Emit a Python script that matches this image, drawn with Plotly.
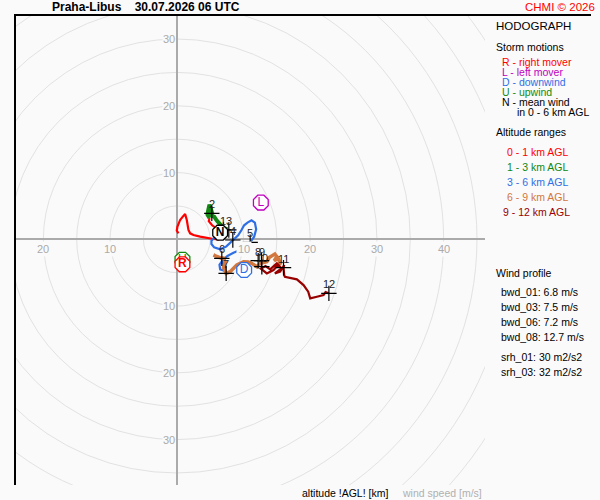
import plotly.graph_objects as go

# hodograph segments (u, v in m/s)
red_u = [0.25, 0.0, 0.1, 0.5, 0.9, 1.25, 1.5, 1.75, 2.0, 2.5, 3.5, 4.5, 5.5, 6.25, 6.8, 6.6, 5.9, 5.3, 4.8, 4.9]
red_v = [0.9, 1.3, 1.9, 2.9, 3.4, 3.8, 2.9, 1.4, 0.9, 0.65, 0.4, 0.2, 0.05, 0.0, 0.4, 1.2, 1.7, 2.1, 2.7, 3.2]
green_u = [4.9, 4.6, 4.7, 4.9, 5.1, 5.3, 5.0, 5.6, 6.0, 6.5, 7.0, 7.6]
green_v = [3.2, 3.7, 4.3, 5.2, 4.6, 3.9, 3.6, 3.4, 2.8, 2.2, 1.7, 1.5]
blue_u = [7.6, 7.2, 6.4, 5.6, 5.2, 5.2, 5.6, 6.5, 7.4, 8.3, 9.2, 9.7, 10.1, 10.6, 11.2, 11.7, 11.9,
          11.6, 11.0, 10.4, 9.5, 8.5, 7.6, 6.9, 6.4, 6.5, 7.1, 7.3, 6.8, 6.75]
blue_v = [1.5, 0.8, 0.4, 0.2, -0.2, -0.7, -1.2, -1.5, -1.1, -0.2, 0.6, 1.4, 2.1, 2.5, 2.85, 2.5, 1.5,
          0.4, -0.45, -1.0, -1.6, -2.0, -2.5, -3.1, -3.8, -4.5, -4.7, -4.2, -3.4, -2.85]
orange_u = [6.75, 6.0, 5.5, 6.2, 7.0, 7.25, 7.0, 7.2, 7.4, 8.0, 9.0, 10.0, 10.7, 11.2, 12.0, 12.5,
            13.5, 13.9, 14.2, 14.7, 15.0, 14.6, 15.2, 15.5, 15.2]
orange_v = [-2.85, -2.6, -2.35, -2.7, -2.8, -3.35, -4.2, -4.8, -5.1, -4.85, -3.85, -3.35, -3.4, -3.6,
            -4.1, -3.6, -3.35, -2.7, -2.5, -2.2, -2.6, -3.2, -2.85, -3.6, -3.8]
dred_u = [15.2, 14.5, 13.5, 12.6, 13.3, 14.0, 15.0, 15.7, 14.7, 15.5, 16.1, 16.0, 16.1, 16.2,
          18.0, 19.0, 19.7, 20.0, 21.0, 22.0, 22.3, 22.8]
dred_v = [-3.8, -4.6, -5.1, -4.4, -4.0, -4.5, -3.6, -4.35, -5.1, -4.85, -3.85, -4.25, -5.35, -5.6,
          -6.0, -6.85, -7.85, -8.85, -8.6, -8.35, -7.9, -8.1]

# altitude marks (km AGL)
alt_labels = ["1", "2", "3", "4", "5", "6", "7", "8", "9", "10", "11", "12"]
alt_u = [7.0, 5.25, 7.8, 8.4, 11.0, 6.75, 7.4, 12.2, 12.7, 12.75, 16.0, 22.8]
alt_v = [1.4, 3.9, 1.4, -0.1, -0.45, -2.85, -5.1, -3.2, -3.2, -4.1, -4.25, -8.1]

# storm motions
storm_names = ["U", "R", "L", "D", "N"]
storm_u = [0.85, 0.85, 12.6, 10.1, 6.5]
storm_v = [-3.05, -3.75, 5.5, -4.6, 1.0]
storm_colors = ["#108a10", "#ff0000", "#c000c0", "#2f6fe6", "#000000"]

seg_colors = ["#ff0000", "#118811", "#2f6fe6", "#d2773f", "#990000"]
seg_widths = [2.2, 4, 2.2, 3.5, 2.2]

ring_radii = [5, 10, 15, 20, 25, 30, 35, 40, 45, 50, 55, 60, 65]
x_ticks = [-20, -10, 10, 20, 30, 40]
y_ticks = [-30, -20, -10, 10, 20, 30]

legend_storm = ["R - right mover", "L - left mover", "D - downwind", "U - upwind", "N - mean wind"]
legend_storm_colors = ["#ff0000", "#c000c0", "#2f6fe6", "#108a10", "#000000"]
legend_alt = ["0 - 1 km AGL", "1 - 3 km AGL", "3 - 6 km AGL", "6 - 9 km AGL", "9 - 12 km AGL"]
profile = ["bwd_01: 6.8 m/s", "bwd_03: 7.5 m/s", "bwd_06: 7.2 m/s", "bwd_08: 12.7 m/s",
           "srh_01: 30 m2/s2", "srh_03: 32 m2/s2"]

W, H = 600, 500
FONT = "Liberation Sans, Arial, sans-serif"


def px(x):
    return x / W


def py(y):
    return 1 - y / H


fig = go.Figure()

segs = [(red_u, red_v), (green_u, green_v), (blue_u, blue_v), (orange_u, orange_v), (dred_u, dred_v)]
for (u, v), c, w in zip(segs, seg_colors, seg_widths):
    fig.add_trace(go.Scatter(x=u, y=v, mode="lines", line=dict(color=c, width=w),
                             hoverinfo="skip", showlegend=False))

fig.add_trace(go.Scatter(x=alt_u, y=alt_v, mode="markers",
                         marker=dict(symbol="cross-thin", size=11, line=dict(color="#000000", width=1.2)),
                         hoverinfo="skip", showlegend=False))

for n, u, v, c in zip(storm_names, storm_u, storm_v, storm_colors):
    label = "<b>%s</b>" % n if n in ("N", "R") else n
    fig.add_trace(go.Scatter(x=[u], y=[v], mode="markers+text", text=[label],
                             textposition="middle center",
                             textfont=dict(color=c, size=12, family=FONT),
                             marker=dict(symbol="octagon", size=16, color="#ffffff",
                                         line=dict(color=c, width=1.3)),
                             hoverinfo="skip", showlegend=False))

shapes = []
for r in ring_radii:
    shapes.append(dict(type="circle", xref="x", yref="y", x0=-r, x1=r, y0=-r, y1=r,
                       line=dict(color="#e2e2e2", width=1), layer="below"))
# black frame: left edge and top edge running on under the side panel
frame_x = [px(15), px(15), px(591)]
frame_y = [py(485), py(15), py(15)]
shapes.append(dict(type="path", xref="paper", yref="paper",
                   path="M %f,%f L %f,%f L %f,%f" % (frame_x[0], frame_y[0], frame_x[1], frame_y[1],
                                                     frame_x[2], frame_y[2]),
                   line=dict(color="black", width=2), layer="above"))

ann = []
for t in x_ticks:
    ann.append(dict(x=t, y=0, xref="x", yref="y", text=str(abs(t)), showarrow=False,
                    yanchor="top", yshift=-2, bgcolor="#fafafa",
                    font=dict(color="#aaaaaa", size=11, family=FONT)))
for t in y_ticks:
    ann.append(dict(x=0, y=t, xref="x", yref="y", text=str(abs(t)), showarrow=False,
                    xanchor="right", xshift=-1, bgcolor="#fafafa", borderpad=0,
                    font=dict(color="#aaaaaa", size=11, family=FONT)))
for lab, u, v in zip(alt_labels, alt_u, alt_v):
    ann.append(dict(x=u, y=v, xref="x", yref="y", text=lab, showarrow=False, yshift=9,
                    font=dict(color="#222222", size=11, family=FONT)))


def txt(x, y, s, color="#000000", size=10.5, anchor="left", bold=False):
    ann.append(dict(x=px(x), y=py(y), xref="paper", yref="paper", text="<b>%s</b>" % s if bold else s,
                    showarrow=False, xanchor=anchor, yanchor="middle",
                    font=dict(color=color, size=size, family=FONT)))


txt(50, 7, "Praha-Libus&nbsp;&nbsp;&nbsp;&nbsp;30.07.2026 06 UTC", size=12, bold=True)
txt(597, 7, "CHMI © 2026", color="#ff0000", size=11.5, anchor="right")
txt(494, 26, "HODOGRAPH", size=11.5)
txt(494, 47, "Storm motions", size=10.5)
for i, (s, c) in enumerate(zip(legend_storm, legend_storm_colors)):
    txt(500, 62 + 10 * i, s, color=c, size=10.5)
txt(515, 112, "in 0 - 6 km AGL", size=10.5)
txt(494, 132, "Altitude ranges", size=10.5)
alt_x = [505, 505, 505, 505, 501]
for i, (s, c, x) in enumerate(zip(legend_alt, seg_colors, alt_x)):
    txt(x, 152 + 15 * i, s, color=c, size=10.5)
txt(494, 273, "Wind profile", size=10.5)
prof_y = [292, 307, 322, 337, 357, 372]
for s, y in zip(profile, prof_y):
    txt(499, y, s, size=10.5)
txt(300, 493, "altitude !AGL! [km]", size=10.5)
txt(400, 493, "wind speed [m/s]", color="#b0b0b0", size=10.5)

fig.update_layout(
    width=W, height=H,
    margin=dict(l=0, r=0, t=0, b=0),
    paper_bgcolor="#fafafa", plot_bgcolor="#fafafa",
    showlegend=False, shapes=shapes, annotations=ann,
    xaxis=dict(range=[-24.25, 46.2], domain=[px(15), px(485)], showgrid=False, zeroline=True,
               zerolinecolor="#aaaaaa", zerolinewidth=1.5, showticklabels=False, ticks=""),
    yaxis=dict(range=[-36.8, 33.6], domain=[py(485), py(15)], showgrid=False, zeroline=True,
               zerolinecolor="#aaaaaa", zerolinewidth=1.5, showticklabels=False, ticks=""),
)

# page body has a default 8px margin; drop it so the 600x500 figure fills the window
fig.write_html("out.html", config={"displayModeBar": False},
               post_script="document.body.style.margin='0';document.body.style.overflow='hidden';")
